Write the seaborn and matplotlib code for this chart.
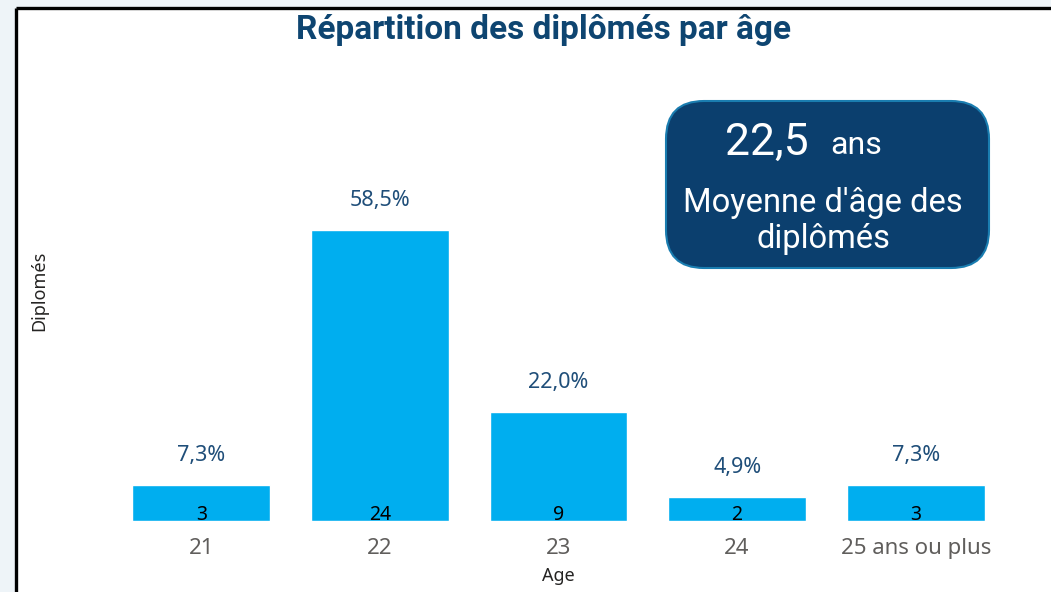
import numpy as np
import pandas as pd
import matplotlib
matplotlib.use("Agg")
import matplotlib.pyplot as plt
import seaborn as sns
from matplotlib.patches import FancyBboxPatch, Rectangle

# data
ages = ["21", "22", "23", "24", "25 ans ou plus"]
counts = [3, 24, 9, 2, 3]
mean_age = "22,5"

total = sum(counts)
pct = [c / total * 100 for c in counts]
df = pd.DataFrame({"Age": ages, "Diplomés": counts})

sns.set_theme(style="white")
plt.rcParams["font.family"] = ["Noto Sans", "DejaVu Sans"]

W, H = 1051, 592
fig = plt.figure(figsize=(W / 100, H / 100), dpi=100)
fig.patch.set_facecolor("#EEF4F8")

# panel background + border (pixel overlay)
bg = fig.add_axes([0, 0, 1, 1], zorder=0)
bg.set_xlim(0, W)
bg.set_ylim(H, 0)
bg.axis("off")
bg.add_patch(Rectangle((16, 8), W, H, facecolor="white", edgecolor="none"))
bg.plot([16, 16], [8, H + 5], color="black", lw=2.4, solid_capstyle="butt")
bg.plot([16, W + 5], [8, 8], color="black", lw=2.4, solid_capstyle="butt")

ax = fig.add_axes([112 / W, (H - 521) / H, (1005 - 112) / W, (521 - 60) / H], zorder=1)
ax.patch.set_alpha(0)
sns.barplot(data=df, x="Age", y="Diplomés", color="#00AEEF", width=0.772,
            saturation=1, ax=ax)
ax.set_xlim(-0.5, len(ages) - 0.5)
ax.set_ylim(0, 38)
sns.despine(ax=ax, left=True, bottom=True)
ax.set_yticks([])
ax.tick_params(axis="x", length=0, pad=12, labelsize=16, labelcolor="#605E5C")
ax.set_xlabel("Age", fontsize=13, color="#252423", labelpad=6, fontweight="semibold")
ax.set_ylabel("Diplomés", fontsize=13, color="#252423", labelpad=46, fontweight="semibold")

for i, (c, p) in enumerate(zip(counts, pct)):
    ax.annotate(f"{p:.1f}%".replace(".", ","), (i, c), xytext=(0, 21),
                textcoords="offset points", ha="center", va="center",
                fontsize=15.5, color="#1F4E79")
    ax.annotate(str(c), (i, 0), xytext=(0, 1), textcoords="offset points",
                ha="center", va="baseline", fontsize=14, color="black")

# overlay for title and card
ov = fig.add_axes([0, 0, 1, 1], zorder=2)
ov.set_xlim(0, W)
ov.set_ylim(H, 0)
ov.axis("off")
ov.text(543, 30, "Répartition des diplômés par âge", ha="center", va="center",
        fontsize=24, fontweight="bold", color="#0E4571", family="Roboto")

card = FancyBboxPatch((666 + 38, 101 + 38), 323 - 76, 167 - 76,
                      boxstyle="round,pad=38", facecolor="#0B3F6E",
                      edgecolor="#1A7DB0", lw=1.5)
ov.add_patch(card)
ov.text(767, 143, mean_age, ha="center", va="center", fontsize=32,
        color="white", family="Roboto")
ov.text(856, 145, "ans", ha="center", va="center", fontsize=23,
        color="white", family="Roboto")
ov.text(823, 203, "Moyenne d'âge des", ha="center", va="center", fontsize=23.5,
        color="white", family="Roboto")
ov.text(823, 239, "diplômés", ha="center", va="center", fontsize=23.5,
        color="white", family="Roboto")

fig.savefig("out.png", dpi=100, facecolor=fig.get_facecolor())
